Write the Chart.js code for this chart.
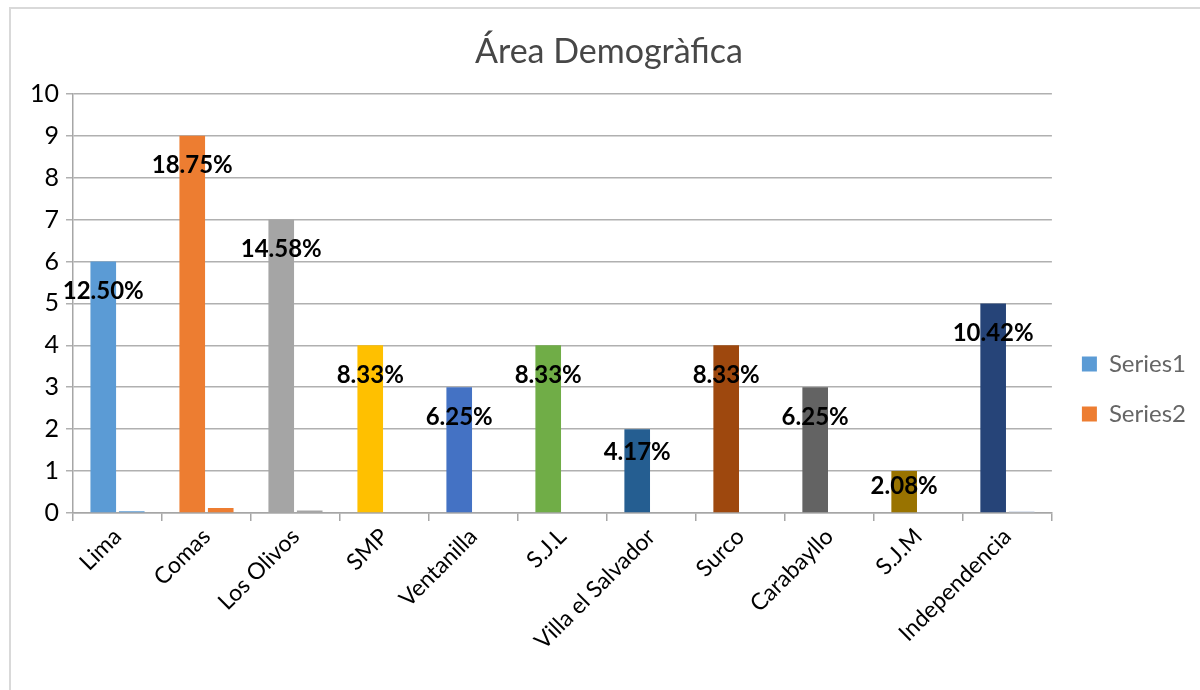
<!DOCTYPE html>
<html><head><meta charset="utf-8">
<script src="https://cdn.jsdelivr.net/npm/chart.js@4.4.0/dist/chart.umd.min.js"></script>
<style>
html,body{margin:0;padding:0;background:#fff;width:1200px;height:690px;overflow:hidden;}
#frame{position:absolute;left:9px;top:7px;width:1300px;height:800px;border:2px solid #d9d9d9;}
#wrap{position:absolute;left:0;top:0;width:1200px;height:690px;}
</style></head><body>
<div id="frame"></div>
<div id="wrap"><canvas id="c" width="1200" height="690"></canvas></div>
<script>
const categories = ['Lima','Comas','Los Olivos','SMP','Ventanilla','S.J.L','Villa el Salvador','Surco','Carabayllo','S.J.M','Independencia'];
const series1 = [6, 9, 7, 4, 3, 4, 2, 4, 3, 1, 5];
const series2 = [0.04, 0.12, 0.06, 0, 0, 0, 0, 0, 0, 0, 0.04];
const percentLabels = ['12.50%','18.75%','14.58%','8.33%','6.25%','8.33%','4.17%','8.33%','6.25%','2.08%','10.42%'];
const seriesNames = ['Series1','Series2'];
const series1Colors = ['#5B9BD5','#ED7D31','#A5A5A5','#FFC000','#4472C4','#70AD47','#255E91','#9E480E','#636363','#997300','#264478'];
const series2Colors = ['#5B9BD5','#ED7D31','#A5A5A5','#FFC000','#4472C4','#70AD47','#255E91','#9E480E','#636363','#997300','#D3DBE8'];
const legendColors = ['#5B9BD5','#ED7D31'];
const yMin = 0, yMax = 10, yStep = 1;

const FONT = 'Lato';

const pctLabelPlugin = {
  id: 'pctLabels',
  afterDatasetsDraw(chart) {
    const ctx = chart.ctx;
    const meta = chart.getDatasetMeta(0);
    ctx.save();
    ctx.font = 'bold 24px ' + FONT;
    ctx.fillStyle = '#000';
    ctx.textAlign = 'center';
    ctx.textBaseline = 'middle';
    meta.data.forEach((el, i) => {
      const h = el.base - el.y;
      const off = Math.min(30, h * 0.18 + 8);
      ctx.fillText(percentLabels[i], el.x, el.y + off);
    });
    ctx.restore();
  }
};

new Chart(document.getElementById('c'), {
  type: 'bar',
  data: {
    labels: categories,
    datasets: [
      { label: seriesNames[0], data: series1, backgroundColor: series1Colors, borderWidth: 0 },
      { label: seriesNames[1], data: series2, backgroundColor: series2Colors, borderWidth: 0 }
    ]
  },
  options: {
    responsive: false,
    animation: false,
    devicePixelRatio: 1,
    categoryPercentage: 0.64,
    barPercentage: 0.9,
    layout: { padding: { left: 22, top: 20, right: 4, bottom: 0 } },
    plugins: {
      title: {
        display: true, text: 'Área Demogràfica', color: '#474747',
        font: { family: FONT, size: 34, weight: 'normal' },
        padding: { top: 12, bottom: 21 }
      },
      legend: {
        position: 'right',
        title: { display: true, text: ' ', font: { size: 10 }, padding: { top: 0, bottom: 56 } },
        labels: {
          boxWidth: 15, boxHeight: 15, padding: 26, color: '#595959',
          font: { family: FONT, size: 24 },
          generateLabels: (chart) => seriesNames.map((n, i) => ({
            text: n, fillStyle: legendColors[i], strokeStyle: legendColors[i], lineWidth: 0, datasetIndex: i, hidden: false
          }))
        }
      },
      tooltip: { enabled: false }
    },
    scales: {
      x: {
        grid: { offset: true, drawOnChartArea: false, drawTicks: true, tickLength: 8, color: '#a6a6a6', lineWidth: 1.5 },
        border: { color: '#a6a6a6', width: 1.5 },
        ticks: { autoSkip: false, maxRotation: 45, minRotation: 45, color: '#000', font: { family: FONT, size: 23 }, padding: 2 },
        afterFit: (s) => { s.height = 177; }
      },
      y: {
        min: yMin, max: yMax,
        ticks: { stepSize: yStep, color: '#000', font: { family: FONT, size: 25 }, padding: 7 },
        grid: { color: '#b0b0b0', lineWidth: 1.5, tickLength: 7 },
        border: { color: '#a6a6a6', width: 1.5 },
        afterFit: (s) => { s.width = 51; }
      },
      pad: {
        type: 'linear', position: 'right', display: true,
        grid: { display: false }, ticks: { display: false }, border: { display: false },
        afterFit: (s) => { s.width = 4; }
      }
    }
  },
  plugins: [pctLabelPlugin]
});
</script>
</body></html>
